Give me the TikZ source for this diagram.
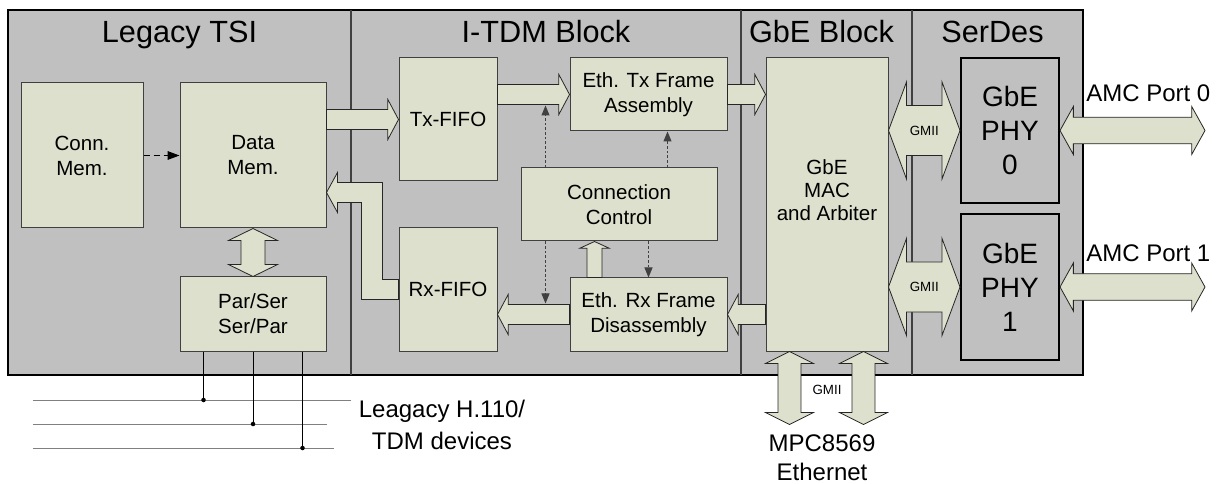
\documentclass[tikz,border=0pt]{standalone}
\usepackage{fontspec}
\setmainfont{Liberation Sans}
\usepackage{xcolor}
\definecolor{tsigray}{RGB}{192,192,192}
\definecolor{boxfill}{RGB}{221,224,204}
\definecolor{edgegray}{RGB}{64,64,64}
\definecolor{busgray}{RGB}{128,128,128}
\usetikzlibrary{arrows.meta, positioning, calc}

% block arrow: tail, tip, shaft half width, head half width, head length
\newcommand{\fatarrow}[5]{%
  \coordinate (fa-a) at (#1);
  \coordinate (fa-b) at (#2);
  \coordinate (fa-p) at ($(fa-b)!#5!(fa-a)$);
  \draw[fat] ($(fa-a)!#3!90:(fa-b)$) -- ($(fa-p)!#3!-90:(fa-a)$)
    -- ($(fa-p)!#4!-90:(fa-a)$) -- (fa-b) -- ($(fa-p)!#4!90:(fa-a)$)
    -- ($(fa-p)!#3!90:(fa-a)$) -- ($(fa-a)!#3!-90:(fa-b)$) -- cycle;}

% block arrow with a head at both ends
\newcommand{\fatdarrow}[5]{%
  \coordinate (fa-a) at (#1);
  \coordinate (fa-b) at (#2);
  \coordinate (fa-p) at ($(fa-b)!#5!(fa-a)$);
  \coordinate (fa-q) at ($(fa-a)!#5!(fa-b)$);
  \draw[fat] (fa-a) -- ($(fa-q)!#4!90:(fa-b)$) -- ($(fa-q)!#3!90:(fa-b)$)
    -- ($(fa-p)!#3!-90:(fa-a)$) -- ($(fa-p)!#4!-90:(fa-a)$) -- (fa-b)
    -- ($(fa-p)!#4!90:(fa-a)$) -- ($(fa-p)!#3!90:(fa-a)$)
    -- ($(fa-q)!#3!-90:(fa-b)$) -- ($(fa-q)!#4!-90:(fa-b)$) -- cycle;}

\begin{document}
\begin{tikzpicture}[
  x=0.75pt, y=-0.75pt,
  fat/.style={draw=black!85, fill=boxfill, line width=0.6pt},
  blk/.style={draw=edgegray, fill=boxfill, line width=0.75pt, inner sep=0pt,
              align=center, font=\fontsize{15.4}{18.8}\selectfont},
  phy/.style={draw=black, fill=tsigray, line width=1.5pt, inner sep=0pt,
              align=center, font=\fontsize{21}{25.5}\selectfont},
  secttitle/.style={anchor=base, inner sep=0pt, font=\fontsize{23}{27}\selectfont},
  lbl/.style={inner sep=0pt, align=center, font=\fontsize{18}{22}\selectfont},
  gmii/.style={inner sep=0pt, font=\fontsize{10}{12}\selectfont},
  ctrl/.style={edgegray, line width=0.75pt, dash pattern=on 2pt off 1.5pt,
               -{Triangle[length=7.5pt, width=6pt]}},
  >=Stealth
]
\useasboundingbox (0,0) rectangle (1219,484);

% --- Frame and sections ---
\draw[black, line width=1.5pt, fill=tsigray] (8,10) rectangle (1083,375);
\draw[edgegray, line width=1pt] (351,10) -- (351,375);
\draw[edgegray, line width=1pt] (741,10) -- (741,375);
\draw[edgegray, line width=1pt] (912,10) -- (912,375);

\node[secttitle] (tsititle) at (179.5,43) {Legacy TSI};
\node[secttitle] (itdmtitle) at (546,43) {I-TDM Block};
\node[secttitle] (gbetitle) at (821.5,43) {GbE Block};
\node[secttitle] (serdestitle) at (992.5,43) {SerDes};

% --- Legacy TSI ---
\node[blk, minimum width=91.5pt, minimum height=108.75pt]
      (connmem) at (82,155.5) {Conn.\\Mem.};
\node[blk, minimum width=109.5pt, minimum height=108.75pt]
      (datamem) at (253,155.5) {Data\\Mem.};
\node[blk, minimum width=109.5pt, minimum height=55.5pt]
      (parser) at (253,314) {Par/Ser\\Ser/Par};

\draw[black, line width=0.75pt, dash pattern=on 4.5pt off 3pt,
      -{Triangle[length=9pt, width=6.5pt]}] (connmem) -- (datamem);
\fatdarrow{datamem.south}{parser.north}{9pt}{18.4pt}{9pt}

% --- I-TDM Block ---
\node[blk, minimum width=73.5pt, minimum height=92.25pt]
      (txfifo) at (448,119.5) {Tx-FIFO};
\node[blk, minimum width=73.5pt, minimum height=92.25pt]
      (rxfifo) at (448,289.5) {Rx-FIFO};
\node[blk, minimum width=117.75pt, minimum height=54.75pt]
      (ethtx) at (648.5,94.5) {Eth. Tx Frame\\Assembly};
\node[blk, minimum width=117.75pt, minimum height=54.75pt]
      (ethrx) at (648.5,314.5) {Eth. Rx Frame\\Disassembly};
\node[blk, minimum width=147pt, minimum height=54.75pt]
      (cc) at (619,204.5) {Connection\\Control};

% --- GbE Block and SerDes ---
\node[blk, minimum width=91.5pt, minimum height=219.75pt]
      (gbemac) at (827,204.5) {};
\node[blk, draw=none, fill=none, font=\fontsize{15.4}{17.2}\selectfont]
      (gbemactext) at (827,190) {GbE\\MAC\\and Arbiter};
\node[phy, minimum width=73.5pt, minimum height=108.75pt]
      (phy0) at (1010,130.5) {GbE\\PHY\\0};
\node[phy, minimum width=73.5pt, minimum height=109.5pt]
      (phy1) at (1010,287) {GbE\\PHY\\1};

% Data path arrows
\fatarrow{datamem.east |- txfifo.west}{txfifo.west}{7.5pt}{15pt}{8pt}
\fatarrow{txfifo.east |- ethtx.west}{ethtx.west}{7.5pt}{15pt}{8pt}
\fatarrow{ethtx.east}{ethtx.east -| gbemac.west}{7.5pt}{15pt}{8pt}
\fatarrow{ethrx.east -| gbemac.west}{ethrx.east}{7.5pt}{15pt}{8pt}
\fatarrow{ethrx.west}{ethrx.west -| rxfifo.east}{7.5pt}{15pt}{8pt}

% Rx-FIFO back to Data Mem.
\coordinate (rxtail) at (rxfifo.west);
\coordinate (dmtip) at ($(datamem.east)+(0,37)$);
\draw[fat] ($(rxtail)+(0,-10)$) -| ($(dmtip)+(56,-10)$) -- ($(dmtip)+(11,-10)$)
  -- ($(dmtip)+(11,-20)$) -- (dmtip) -- ($(dmtip)+(11,20)$) -- ($(dmtip)+(11,10)$)
  -| ($(rxtail)+(-37,10)$) -- ($(rxtail)+(0,10)$) -- cycle;

% Control signals
\coordinate (ccup) at ($(cc.south west)+(74,0)$);
\fatarrow{ccup |- ethrx.north}{ccup}{5.6pt}{10.9pt}{5pt}

\coordinate (cctx) at ($(cc.north west)+(25,0)$);
\coordinate (txbus) at ($(cctx)+(0,-62)$);
\coordinate (ccas) at ($(cc.north west)+(147,0)$);
\coordinate (ccrx) at ($(cc.south west)+(25,0)$);
\coordinate (rxbus) at ($(ccrx)+(0,62)$);
\draw[ctrl] (cctx) -- (txbus);
\draw[ctrl] (ccas) -- (ccas |- ethtx.south);
\draw[ctrl] (ccrx) -- (rxbus);
\draw[ctrl] (cc.south -| ethrx.north) -- (ethrx.north);

% GMII links
\fatdarrow{gbemac.east |- phy0.west}{phy0.west}{18.75pt}{36.4pt}{13.5pt}
\fatdarrow{gbemac.east |- phy1.west}{phy1.west}{18.75pt}{36.4pt}{13.5pt}
\node[gmii] (gmii0) at ($(gbemac.east |- phy0.west)!0.5!(phy0.west)$) {GMII};
\node[gmii] (gmii1) at ($(gbemac.east |- phy1.west)!0.5!(phy1.west)$) {GMII};

% AMC ports
\coordinate (amc0) at ($(phy0.east)+(145,0)$);
\coordinate (amc1) at ($(phy1.east)+(145,0)$);
\fatdarrow{phy0.east}{amc0}{10pt}{18pt}{10pt}
\fatdarrow{phy1.east}{amc1}{10pt}{18pt}{10pt}
\node[lbl, anchor=west] (amc0lbl) at (1086,93) {AMC Port 0};
\node[lbl, anchor=west] (amc1lbl) at (1086,253) {AMC Port 1};

% Host Ethernet
\coordinate (eth0top) at ($(gbemac.south west)+(24,0)$);
\coordinate (eth0bot) at ($(gbemac.south west)+(24,73)$);
\coordinate (eth1top) at ($(gbemac.south east)+(-25,0)$);
\coordinate (eth1bot) at ($(gbemac.south east)+(-25,73)$);
\fatdarrow{eth0top}{eth0bot}{8.6pt}{18pt}{9pt}
\fatdarrow{eth1top}{eth1bot}{8.6pt}{18pt}{9pt}
\node[gmii] (gmiieth) at ($(gbemac.south)+(0,38)$) {GMII};
\node[lbl] (mpclbl) at (822,457.5) {MPC8569\\Ethernet};

% --- Legacy TDM bus ---
\coordinate (bus1w) at (33,400);
\coordinate (bus1e) at (351,400);
\coordinate (bus2w) at (33,424);
\coordinate (bus2e) at (327,424);
\coordinate (bus3w) at (33,448);
\coordinate (bus3e) at (334,448);
\draw[busgray, line width=0.75pt] (bus1w) -- (bus1e);
\draw[busgray, line width=0.75pt] (bus2w) -- (bus2e);
\draw[busgray, line width=0.75pt] (bus3w) -- (bus3e);

\coordinate (tap1) at ($(parser.south west)+(24,0)$);
\coordinate (tap2) at (parser.south);
\coordinate (tap3) at ($(parser.south east)+(-24,0)$);
\draw[black, line width=0.6pt] (tap1) -- (tap1 |- bus1w);
\draw[black, line width=0.6pt] (tap2) -- (tap2 |- bus2w);
\draw[black, line width=0.6pt] (tap3) -- (tap3 |- bus3w);
\fill (tap1 |- bus1w) circle[radius=1.7pt];
\fill (tap2 |- bus2w) circle[radius=1.7pt];
\fill (tap3 |- bus3w) circle[radius=1.7pt];

\node[lbl, font=\fontsize{18}{24}\selectfont] (tdmlbl) at (442,425)
      {Leagacy H.110/\\TDM devices};

\end{tikzpicture}
\end{document}
